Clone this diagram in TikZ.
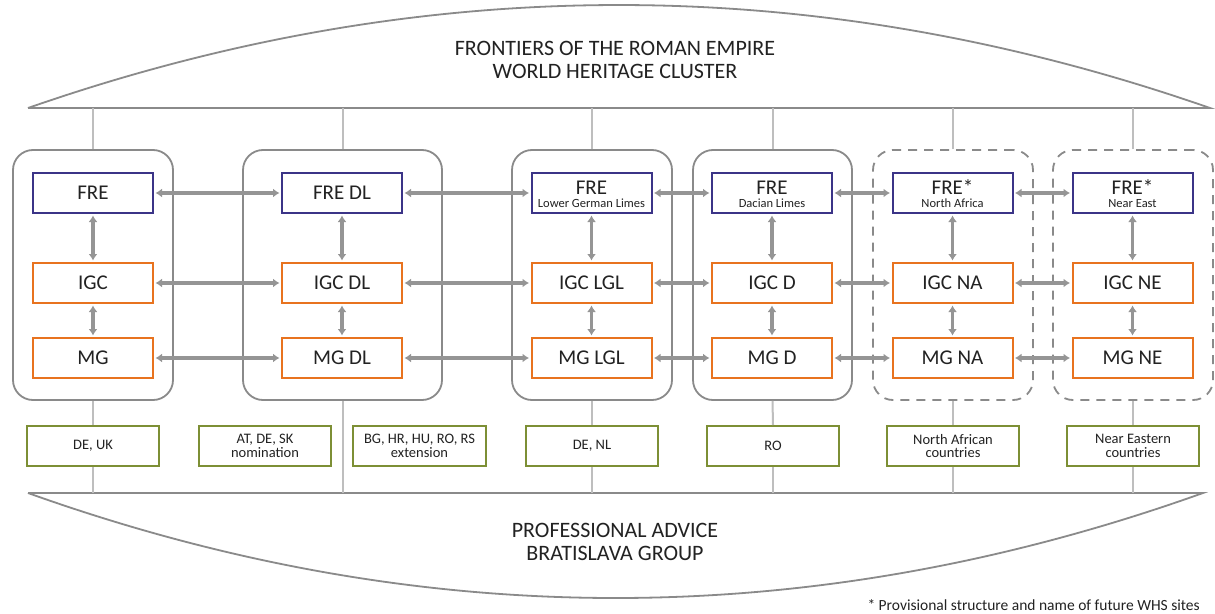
\documentclass[tikz,border=0pt]{standalone}
\usepackage{fontspec}
\setmainfont{Carlito}
\usetikzlibrary{arrows.meta}
\definecolor{rimgrey}{HTML}{8A8A8A}
\definecolor{linkgrey}{HTML}{959595}
\definecolor{dropgrey}{HTML}{BEBEBE}
\definecolor{freblue}{HTML}{3B3487}
\definecolor{orgorange}{HTML}{E8731F}
\definecolor{ctgreen}{HTML}{7D8F35}
\definecolor{ink}{HTML}{222222}
\begin{document}
\begin{tikzpicture}[x=1pt,y=-1pt,
  every node/.style={text=ink},
  group/.style={draw=rimgrey, line width=1.8pt, rounded corners=20pt,
    minimum width=160pt, minimum height=250pt, inner sep=0pt},
  futuregroup/.style={group, dash pattern=on 9pt off 7pt},
  frebox/.style={draw=freblue, line width=2pt, fill=white, minimum width=120pt,
    minimum height=40pt, inner sep=0pt, font=\fontsize{21}{21}\selectfont},
  orgbox/.style={frebox, draw=orgorange},
  ctbox/.style={draw=ctgreen, line width=2pt, fill=white, minimum width=132pt,
    minimum height=40pt, inner sep=0pt, align=center,
    font=\fontsize{14.5}{13.5}\selectfont},
  bigtext/.style={inner sep=0pt, anchor=base, font=\fontsize{21}{21}\selectfont},
  subtext/.style={inner sep=0pt, anchor=base, font=\fontsize{12.5}{12.5}\selectfont},
  headtext/.style={inner sep=0pt, align=center, font=\fontsize{22}{23}\selectfont},
  relation/.style={draw=linkgrey, line width=3.2pt,
    {Latex[length=6.5pt,width=9pt]}-{Latex[length=6.5pt,width=9pt]},
    shorten <=1.5pt, shorten >=1.5pt},
  dropline/.style={draw=dropgrey, line width=2pt},
  rim/.style={draw=rimgrey, line width=1.8pt},
]
\useasboundingbox[fill=white] (0,0) rectangle (1215,613);

% umbrella shapes above and below
\coordinate (topL) at (28,108);
\coordinate (topR) at (1210,108);
\coordinate (botL) at (28,493);
\coordinate (botR) at (1203,493);
\draw[rim] (topL) -- (topR) .. controls (816,-29.3) and (422,-29.3) .. (topL);
\draw[rim] (botL) -- (botR) .. controls (811.3,633) and (419.7,633) .. (botL);

\node[headtext] (head) at (615,59.5) {FRONTIERS OF THE ROMAN EMPIRE\\WORLD HERITAGE CLUSTER};
\node[headtext] (foot) at (615,542) {PROFESSIONAL ADVICE\\BRATISLAVA GROUP};

% site groups
\node[group] (c1) at (93,275) {};
\node[group, minimum width=199pt] (c2) at (342.5,275) {};
\node[group] (c3) at (592,275) {};
\node[group, minimum width=159pt] (c4) at (772.5,275) {};
\node[futuregroup] (c5) at (953,275) {};
\node[futuregroup] (c6) at (1133,275) {};

% column 1
\node[frebox] (f1) at (93,193) {FRE};
\node[orgbox] (i1) at (93,283) {IGC};
\node[orgbox] (m1) at (93,358) {MG};
% column 2
\node[frebox] (f2) at (342,193) {FRE DL};
\node[orgbox] (i2) at (342,283) {IGC DL};
\node[orgbox] (m2) at (342,358) {MG DL};
% column 3
\node[frebox] (f3) at (591.5,193) {};
\node[bigtext] (f3a) at (591.5,194) {FRE};
\node[subtext] (f3b) at (591.5,207.5) {Lower German Limes};
\node[orgbox] (i3) at (591.5,283) {IGC LGL};
\node[orgbox] (m3) at (591.5,358) {MG LGL};
% column 4
\node[frebox] (f4) at (772,193) {};
\node[bigtext] (f4a) at (772,194) {FRE};
\node[subtext] (f4b) at (772,207.5) {Dacian Limes};
\node[orgbox] (i4) at (772,283) {IGC D};
\node[orgbox] (m4) at (772,358) {MG D};
% column 5
\node[frebox] (f5) at (952.5,193) {};
\node[bigtext] (f5a) at (952.5,194) {FRE*};
\node[subtext] (f5b) at (952.5,207.5) {North Africa};
\node[orgbox] (i5) at (952.5,283) {IGC NA};
\node[orgbox] (m5) at (952.5,358) {MG NA};
% column 6
\node[frebox] (f6) at (1132.5,193) {};
\node[bigtext] (f6a) at (1132.5,194) {FRE*};
\node[subtext] (f6b) at (1132.5,207.5) {Near East};
\node[orgbox] (i6) at (1132.5,283) {IGC NE};
\node[orgbox] (m6) at (1132.5,358) {MG NE};

% countries
\node[ctbox] (g1) at (93,446) {DE, UK};
\node[ctbox] (g2) at (265,446) {AT, DE, SK\\nomination};
\node[ctbox, minimum width=133pt] (g3) at (419.5,446) {BG, HR, HU, RO, RS\\extension};
\node[ctbox] (g4) at (592,446) {DE, NL};
\node[ctbox] (g5) at (773,446) {RO};
\node[ctbox] (g6) at (953,446) {North African\\countries};
\node[ctbox] (g7) at (1133,446) {Near Eastern\\countries};

% drops from the cluster line
\foreach \c in {c1,c2,c3,c4,c5,c6}
  \draw[dropline] (\c.north) -- (\c.north |- topL);
% drops to the advice line
\draw[dropline] (c2.south) -- (c2.south |- botL);
\foreach \c/\g in {c1/g1,c3/g4,c4/g5,c5/g6,c6/g7}{
  \draw[dropline] (\c.south) -- (\g.north);
  \draw[dropline] (\g.south) -- (\g.south |- botL);
}

% links between sites
\foreach \a/\b in {1/2,2/3,3/4,4/5,5/6}{
  \draw[relation] (f\a.east) -- (f\b.west);
  \draw[relation] (i\a.east) -- (i\b.west);
  \draw[relation] (m\a.east) -- (m\b.west);
}
% links within each site
\foreach \k in {1,...,6}{
  \draw[relation] (f\k.south) -- (i\k.north);
  \draw[relation] (i\k.south) -- (m\k.north);
}

\node[inner sep=0pt, anchor=base east, font=\fontsize{15.5}{15.5}\selectfont] (note)
  at (1200,610) {* Provisional structure and name of future WHS sites};
\end{tikzpicture}
\end{document}
